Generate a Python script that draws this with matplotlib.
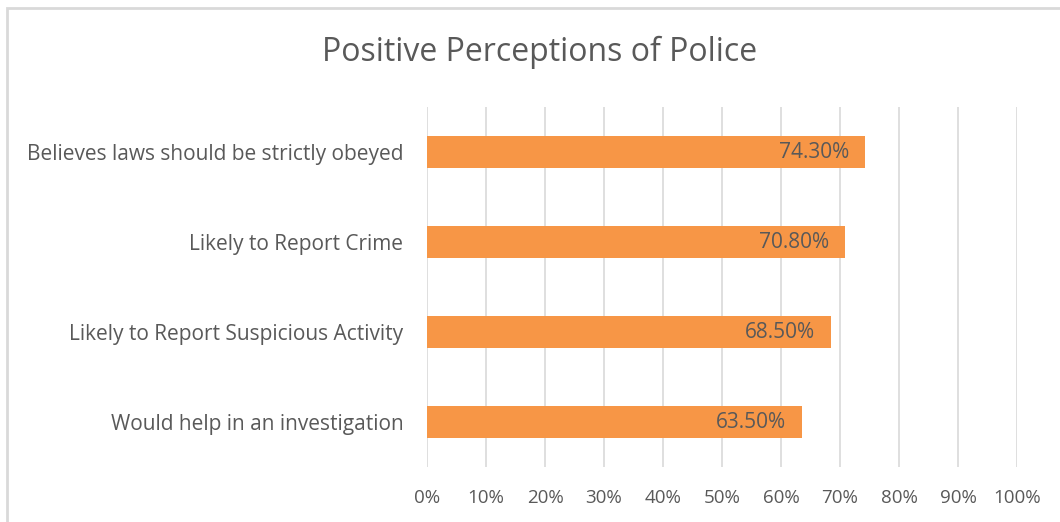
import matplotlib
matplotlib.use("Agg")
import matplotlib.pyplot as plt
from matplotlib.patches import Rectangle

categories = ["Believes laws should be strictly obeyed", "Likely to Report Crime",
              "Likely to Report Suspicious Activity", "Would help in an investigation"]
values = [74.3, 70.8, 68.5, 63.5]
ticks = [0, 10, 20, 30, 40, 50, 60, 70, 80, 90, 100]
tick_labels = [f"{t}%" for t in ticks]

plt.rcParams['font.family'] = ['Open Sans', 'DejaVu Sans']
W, H = 1060, 522
fig = plt.figure(figsize=(W/100, H/100), dpi=100)
fig.patches.append(Rectangle((7/W, -0.1), 1.2, (H-8)/H + 0.1, transform=fig.transFigure,
                             fill=False, edgecolor='#D9D9D9', linewidth=2))
ax = fig.add_axes([427/W, 1-467/H, 590/W, 360/H])
txt = '#595959'
y = list(range(len(categories)))
ax.barh(y, values, height=0.345, color='#F79646')
ax.set_ylim(len(categories)-0.5, -0.5)
ax.set_xlim(0, 100)
ax.set_xticks(ticks)
ax.set_xticklabels(tick_labels)
ax.set_yticks(y)
ax.set_yticklabels(categories)
ax.tick_params(axis='both', length=0, colors=txt)
ax.tick_params(axis='x', pad=16, labelsize=13.5)
ax.tick_params(axis='y', pad=17, labelsize=15)
for s in ax.spines.values():
    s.set_visible(False)
ax.grid(axis='x', color='#D9D9D9', linewidth=1.2)
ax.set_axisbelow(True)
for yi, v in zip(y, values):
    ax.annotate(f"{v:.2f}%", (v, yi), xytext=(-16, 0), textcoords='offset pixels',
                ha='right', va='center', color=txt, fontsize=15)
fig.text(540/W, 1-52/H, "Positive Perceptions of Police", ha='center', va='center',
         color=txt, fontsize=23)
fig.savefig("out.png", dpi=100)
